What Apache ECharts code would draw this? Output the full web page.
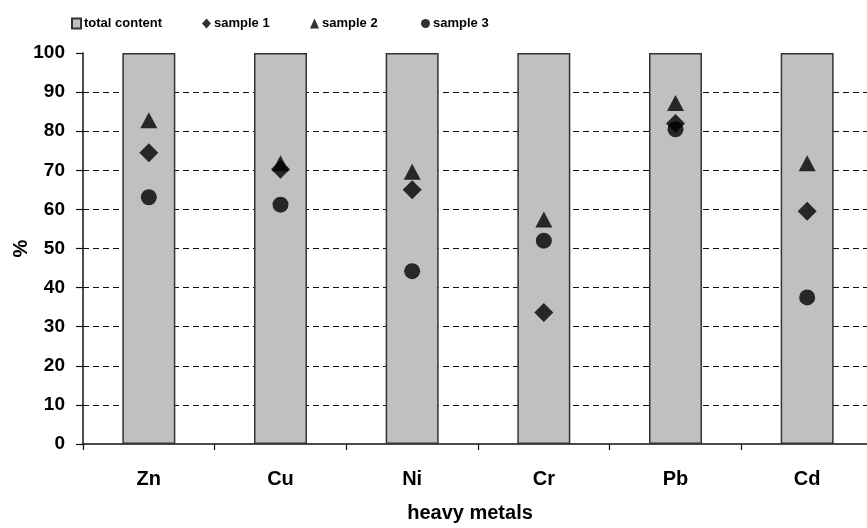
<!DOCTYPE html>
<html>
<head>
<meta charset="utf-8">
<script src="https://cdn.jsdelivr.net/npm/echarts@6/dist/echarts.min.js"></script>
<style>
html,body{margin:0;padding:0;background:#fff;}
#chart{width:867px;height:528px;}
</style>
</head>
<body>
<div id="chart"></div>
<script>
var categories = ['Zn', 'Cu', 'Ni', 'Cr', 'Pb', 'Cd'];
var totalContent = [100, 100, 100, 100, 100, 100];
var sample1 = [74.5, 70.3, 65.0, 33.6, 82.0, 59.5];
var sample2 = [82.8, 71.8, 69.6, 57.4, 87.2, 71.8];
var sample3 = [63.1, 61.2, 44.2, 52.0, 80.5, 37.5];
var yTicks = { min: 0, max: 100, interval: 10 };

var FONT = '"Liberation Sans", Arial, sans-serif';
var chart = echarts.init(document.getElementById('chart'), null, { renderer: 'canvas' });

function legend(name, left, icon) {
  return {
    data: [{ name: name, icon: icon }],
    left: left, top: 17, padding: 0,
    itemWidth: 9, itemHeight: 10, itemGap: 0,
    textStyle: { fontFamily: FONT, fontWeight: 'bold', fontSize: 13, color: '#000', padding: [0, 0, 0, -2] }
  };
}

chart.setOption({
  animation: false,
  backgroundColor: '#fff',
  textStyle: { fontFamily: FONT },
  legend: [
    legend('total content', 71, 'rect'),
    legend('sample 1', 202, 'diamond'),
    legend('sample 2', 310, 'triangle'),
    legend('sample 3', 421, 'circle')
  ],
  grid: { left: 83, top: 53, width: 790, bottom: 84, containLabel: false, outerBoundsMode: 'none' },
  xAxis: {
    type: 'category',
    data: categories,
    name: 'heavy metals',
    nameLocation: 'middle',
    nameGap: 59,
    nameMoveOverlap: false,
    nameTextStyle: { fontFamily: FONT, fontWeight: 'bold', fontSize: 20, color: '#000', padding: [0, 16, 0, 0] },
    axisLine: { lineStyle: { color: '#111', width: 1.5 } },
    axisTick: { show: true, alignWithLabel: false, length: 6, lineStyle: { color: '#111', width: 1.2 } },
    axisLabel: { fontFamily: FONT, fontWeight: 'bold', fontSize: 20, color: '#000', margin: 25 },
    splitLine: { show: false }
  },
  yAxis: {
    type: 'value',
    min: yTicks.min, max: yTicks.max, interval: yTicks.interval,
    name: '%',
    nameLocation: 'middle',
    nameGap: 52,
    nameMoveOverlap: false,
    nameRotate: 90,
    nameTextStyle: { fontFamily: FONT, fontWeight: 'bold', fontSize: 20, color: '#000' },
    axisLine: { show: true, lineStyle: { color: '#111', width: 1.5 } },
    axisTick: { show: true, inside: false, length: 7, lineStyle: { color: '#111', width: 1.2 } },
    axisLabel: { fontFamily: FONT, fontWeight: 'bold', fontSize: 19, color: '#000', margin: 18 },
    splitLine: { show: true, showMinLine: false, showMaxLine: false,
      lineStyle: { color: '#111', width: 1.2, type: [6, 4] } }
  },
  series: [
    {
      name: 'total content', type: 'bar', data: totalContent,
      barWidth: 53,
      itemStyle: { color: '#c0c0c0', borderColor: '#333', borderWidth: 1.5 },
      z: 2
    },
    {
      name: 'sample 2', type: 'scatter', data: sample2,
      symbol: 'triangle', symbolSize: [17, 16],
      itemStyle: { color: '#000' }, z: 3
    },
    {
      name: 'sample 1', type: 'scatter', data: sample1,
      symbol: 'diamond', symbolSize: [19, 19],
      itemStyle: { color: '#000' }, z: 4
    },
    {
      name: 'sample 3', type: 'scatter', data: sample3,
      symbol: 'circle', symbolSize: 16,
      itemStyle: { color: '#000' }, z: 5
    }
  ]
});
</script>
</body>
</html>
